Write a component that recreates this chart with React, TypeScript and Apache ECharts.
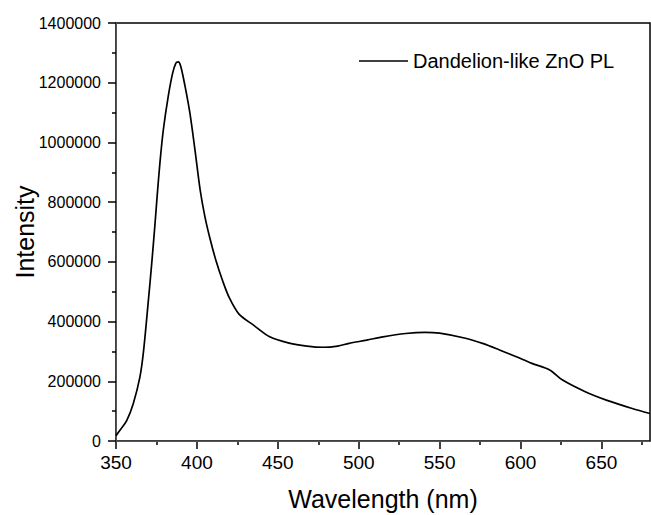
import React, { useEffect, useRef } from "react";
import * as echarts from "echarts";

const wavelengths = [
  350, 353, 356.6, 360.7, 364.8, 367, 370, 372, 374, 375.5, 377.2, 379.2, 382.3, 385, 387, 388.5,
  390, 392.6, 395.7, 398.8, 402, 405, 408, 412, 416, 420, 426, 435, 445, 457, 468, 478, 487,
  494, 505, 515, 529, 541, 550, 566, 577, 587, 597, 607, 618, 626, 640, 653, 669, 680,
];
const intensities = [
  18000, 40000, 68000, 126000, 215000, 300000, 470000, 590000, 720000, 825000, 935000, 1040000,
  1155000, 1232000, 1266000, 1270000, 1255000, 1190000, 1097000, 975000, 841000, 750000, 680000,
  600000, 535000, 480000, 425000, 388000, 349000, 328000, 318000, 314000, 318000, 327000, 338000,
  349000, 360000, 364000, 361000, 344000, 326000, 305000, 283000, 260000, 238000, 204000, 165000,
  137000, 109000, 92000,
];
const xMin = 350;
const xMax = 680;
const xMajorStep = 50;
const xMajorLast = 650;
const xMinorFirst = 375;
const xMinorLast = 675;
const seriesName = "Dandelion-like ZnO PL";

const FONT = "'Liberation Sans', Arial, sans-serif";

const W = 651;
const PLOT_LEFT = 116;
const PLOT_RIGHT = 1;
const PLOT_TOP = 23;
const PLOT_BOTTOM = 74;

export default function App() {
  const ref = useRef<HTMLDivElement>(null);
  useEffect(() => {
    document.body.style.margin = "0";
    const chart = echarts.init(ref.current!, null, { renderer: "svg" });
    const data = wavelengths.map((w, i) => [w, intensities[i]]);
    const plotW = W - PLOT_LEFT - PLOT_RIGHT;
    const pxPerNm = plotW / (xMax - xMin);
    const axisY = 515 - PLOT_BOTTOM;
    // tick strips (major / minor) drawn with split lines of helper axes sharing the same scale
    const majLeft = PLOT_LEFT;
    const majRight = W - (PLOT_LEFT + (xMajorLast - xMin) * pxPerNm);
    const minLeft = PLOT_LEFT + (xMinorFirst - xMin) * pxPerNm;
    const minRight = W - (PLOT_LEFT + (xMinorLast - xMin) * pxPerNm);
    const tickLine = { show: true, lineStyle: { color: "#000", width: 1.5 } };
    const helperX = (gridIndex: number, min: number, max: number) => ({
      type: "value",
      gridIndex,
      min,
      max,
      interval: xMajorStep,
      axisLine: { show: false },
      axisTick: { show: false },
      axisLabel: { show: false },
      splitLine: tickLine,
    });
    chart.setOption({
      animation: false,
      grid: [
        {
          left: PLOT_LEFT,
          right: PLOT_RIGHT,
          top: PLOT_TOP,
          bottom: PLOT_BOTTOM,
          outerBoundsMode: "none",
          show: true,
          borderColor: "#000",
          borderWidth: 1.5,
        },
        { left: majLeft, right: majRight, top: axisY, height: 8, outerBoundsMode: "none", show: false },
        { left: minLeft, right: minRight, top: axisY, height: 4, outerBoundsMode: "none", show: false },
      ],
      legend: {
        left: 359,
        top: 51,
        padding: 0,
        itemWidth: 49,
        itemHeight: 10,
        itemGap: 5,
        textStyle: { fontFamily: FONT, fontSize: 20, color: "#000" },
        data: [{ name: seriesName, icon: "path://M0,0 L49,0 L49,1.5 L0,1.5 Z" }],
      },
      xAxis: [
        {
          type: "value",
          gridIndex: 0,
          min: xMin,
          max: xMax,
          interval: xMajorStep,
          splitLine: { show: false },
          axisTick: { show: false },
          minorTick: { show: false },
          axisLabel: {
            margin: 12,
            fontFamily: FONT,
            fontSize: 19,
            color: "#000",
            showMaxLabel: false,
            formatter: (v: number) => (v % xMajorStep === 0 ? String(v) : ""),
          },
          name: "Wavelength (nm)",
          nameLocation: "middle",
          nameGap: 45,
          nameMoveOverlap: false,
          nameTextStyle: { fontFamily: FONT, fontSize: 25, color: "#000" },
        },
        helperX(1, xMin, xMajorLast),
        helperX(2, xMinorFirst, xMinorLast),
      ],
      yAxis: [
        {
          type: "value",
          gridIndex: 0,
          min: 0,
          max: 1400000,
          interval: 200000,
          splitLine: { show: false },
          axisTick: { show: true, length: 8, lineStyle: { color: "#000", width: 1.5 } },
          minorTick: { show: true, splitNumber: 2, length: 4, lineStyle: { color: "#000", width: 1.5 } },
          axisLabel: {
            margin: 15,
            fontFamily: FONT,
            fontSize: 16,
            color: "#000",
            formatter: (v: number) => String(v),
          },
          name: "Intensity",
          nameLocation: "middle",
          nameGap: 79,
          nameMoveOverlap: false,
          nameTextStyle: { fontFamily: FONT, fontSize: 25, color: "#000" },
        },
        { type: "value", gridIndex: 1, show: false, min: 0, max: 1 },
        { type: "value", gridIndex: 2, show: false, min: 0, max: 1 },
      ],
      series: [
        {
          name: seriesName,
          type: "line",
          xAxisIndex: 0,
          yAxisIndex: 0,
          data,
          symbol: "none",
          smooth: 0.3,
          lineStyle: { color: "#000", width: 1.7 },
          itemStyle: { color: "#000" },
        },
      ],
    });
    return () => chart.dispose();
  }, []);
  return <div ref={ref} style={{ width: 651, height: 515, background: "#fff" }} />;
}
